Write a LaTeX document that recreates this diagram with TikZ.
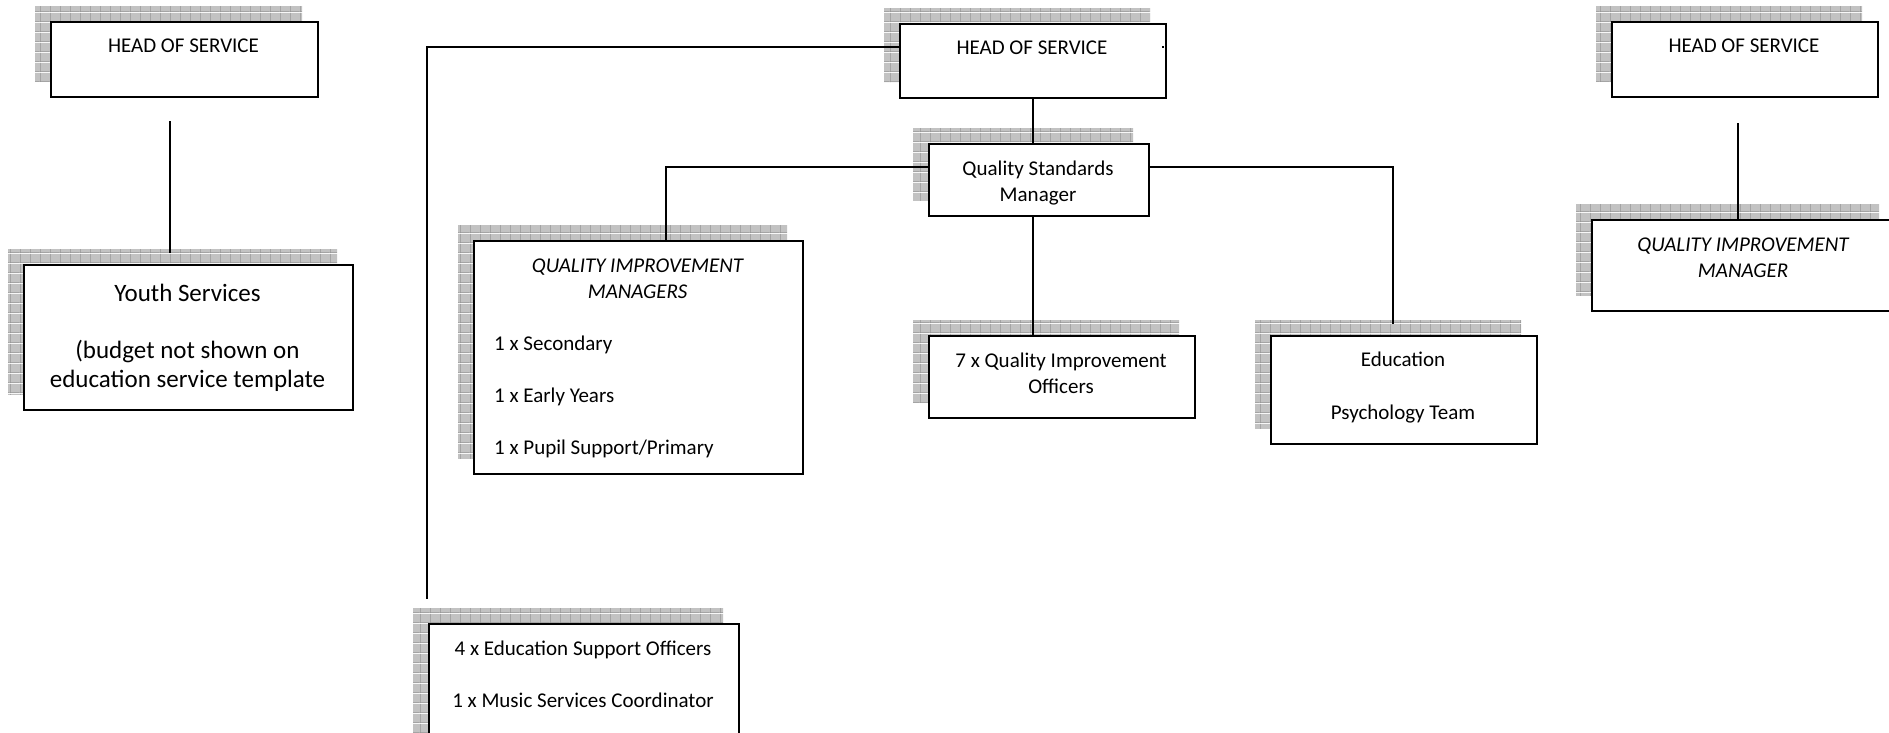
\documentclass[tikz,border=0pt]{standalone}
\usepackage{fontspec}
\setmainfont{Carlito}
\usetikzlibrary{calc,patterns.meta}

\tikzdeclarepattern{
  name=shadegrid,
  type=colored,
  bounding box={(0pt,0pt) and (10pt,10pt)},
  tile size={(10pt,10pt)},
  code={
    \fill[black!24] (0pt,0pt) rectangle (10pt,10pt);
    \draw[black!42,line width=0.8pt] (0pt,0.4pt) -- (10pt,0.4pt) (0.4pt,0pt) -- (0.4pt,10pt);
  }
}

\tikzset{
  staffbox/.style={draw,line width=2.4pt,fill=white,anchor=north west,inner sep=0pt,
    preaction={pattern=shadegrid,transform canvas={shift={(-16pt,16pt)}}}},
  txt/.style={anchor=base,inner sep=0pt,align=center,font=\fontsize{21}{26}\selectfont},
  itxt/.style={txt,font=\fontsize{21}{26}\selectfont\itshape},
  link/.style={line width=2pt}
}

\begin{document}
\begin{tikzpicture}[x=1pt,y=-1pt]
\useasboundingbox (0,0) rectangle (1889,732);

% left (text nodes sit on the baseline of their last line)
\node[staffbox,minimum width=267pt,minimum height=75pt] (hosL) at (50,21) {};
\node[txt] (hosLtxt) at (183.5,52) {HEAD OF SERVICE};
\node[staffbox,minimum width=329pt,minimum height=145pt] (youth) at (23,264) {};
\node[txt,font=\fontsize{25}{29}\selectfont] (youthtxt) at (187.5,387)
  {Youth Services\\[28pt](budget not shown on\\education service template};

% middle
\node[staffbox,minimum width=266pt,minimum height=74pt] (hosC) at (899,23) {};
\node[txt] (hosCtxt) at (1032,54) {HEAD OF SERVICE};
\node[staffbox,minimum width=220pt,minimum height=72pt] (qsm) at (928,143) {};
\node[txt] (qsmtxt) at (1038,201) {Quality Standards\\Manager};
\node[staffbox,minimum width=329pt,minimum height=233pt] (qims) at (473,240) {};
\node[itxt] (qimshead) at (637.5,298) {QUALITY IMPROVEMENT\\MANAGERS};
\node[txt,anchor=base west,align=left] (qimslist) at (494,454)
  {1 x Secondary\\[26pt]1 x Early Years\\[26pt]1 x Pupil Support/Primary};
\node[staffbox,minimum width=266pt,minimum height=82pt] (qio) at (928,335) {};
\node[txt] (qiotxt) at (1061,393) {7 x Quality Improvement\\Officers};
\node[staffbox,minimum width=266pt,minimum height=108pt] (edu) at (1270,335) {};
\node[txt] (edutxt) at (1403,419) {Education\\[27pt]Psychology Team};
\node[staffbox,minimum width=310pt,minimum height=125pt] (eso) at (428,623) {};
\node[txt] (esotxt) at (583,707)
  {4 x Education Support Officers\\[26pt]1 x Music Services Coordinator};

% right
\node[staffbox,minimum width=266pt,minimum height=75pt] (hosR) at (1611,21) {};
\node[txt] (hosRtxt) at (1744,52) {HEAD OF SERVICE};
\node[staffbox,minimum width=303pt,minimum height=91pt] (qimR) at (1591,219) {};
\node[itxt] (qimRtxt) at (1743,277) {QUALITY IMPROVEMENT\\MANAGER};

% loose line ends
\coordinate (hosLlink) at (170,121);
\coordinate (youthlink) at (170,253);
\coordinate (hosRlink) at (1738,123);
\coordinate (edulink) at (1393,324);
\coordinate (esolink) at (427,599);

% lines
\draw[link] (hosLlink) -- (youthlink);
\draw[link] (hosRlink) -- (hosRlink |- qimR.north);
\draw[link] (hosC.south) -- (hosC.south |- qsm.north);
\draw[link] (hosC.south |- qsm.south) -- (hosC.south |- qio.north);
\draw[link] ($(qsm.north west)+(0,24)$) -| ($(qims.north)+(27,0)$);
\draw[link] ($(qsm.north east)+(0,24)$) -| (edulink);
\draw[link] ($(hosC.north west)+(0,24)$) -| (esolink);
\draw[link] ($(hosC.north east)+(-5,24)$) -- ++(2,0);
\end{tikzpicture}
\end{document}
